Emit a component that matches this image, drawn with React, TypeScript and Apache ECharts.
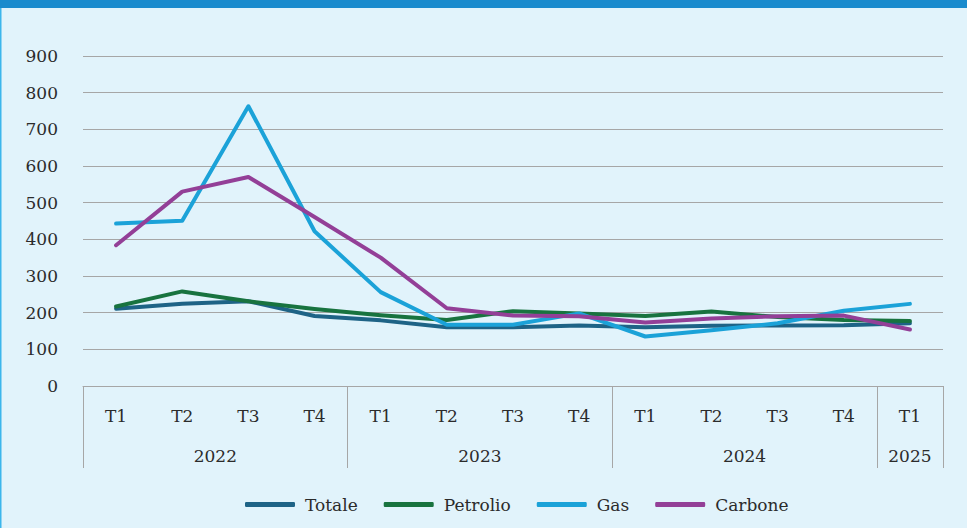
import React, { useEffect, useRef } from "react";
import * as echarts from "echarts";

const quarters = ["T1", "T2", "T3", "T4", "T1", "T2", "T3", "T4", "T1", "T2", "T3", "T4", "T1"];
const years = ["2022", "2023", "2024", "2025"];
const yearSizes = [4, 4, 4, 1];

const totale = [211, 224, 231, 191, 179, 160, 160, 165, 160, 164, 165, 166, 171];
const petrolio = [217, 258, 231, 210, 193, 180, 204, 198, 191, 203, 188, 180, 177];
const gas = [443, 451, 763, 422, 256, 167, 167, 198, 135, 152, 171, 205, 224];
const carbone = [384, 530, 570, 461, 350, 212, 192, 190, 173, 184, 190, 192, 154];

const FONT = "'DejaVu Serif', serif";
const FS = 17;
const TXT = "#2b2b2b";
const GRIDC = "#a6a6a6";

export default function App() {
  const ref = useRef<HTMLDivElement>(null);
  useEffect(() => {
    if (!ref.current) return;
    const chart = echarts.init(ref.current, null, { renderer: "svg" });

    const bounds: number[] = [0];
    const labelPos: number[] = [];
    let acc = 0;
    yearSizes.forEach((s) => {
      labelPos.push(acc + s / 2);
      acc += s;
      bounds.push(acc);
    });

    const mk = (name: string, data: number[], color: string) => ({
      name,
      type: "line",
      data,
      showSymbol: false,
      symbol: "none",
      lineStyle: { width: 4, color, cap: "round", join: "round" },
      itemStyle: { color },
      xAxisIndex: 0,
    });

    chart.setOption({
      animation: false,
      backgroundColor: "#e1f3fb",
      textStyle: { fontFamily: FONT },
      grid: { left: 83, right: 24, top: 56, bottom: 142, containLabel: false },
      xAxis: [
        {
          type: "category",
          data: quarters,
          boundaryGap: true,
          position: "bottom",
          axisLine: { show: true, lineStyle: { color: GRIDC, width: 1 } },
          axisTick: { show: false },
          axisLabel: { color: TXT, fontFamily: FONT, fontSize: FS, margin: 21 },
          splitLine: { show: false },
        },
        {
          type: "value",
          min: 0,
          max: quarters.length,
          position: "bottom",
          axisLine: { show: false },
          splitLine: { show: false },
          axisTick: {
            show: true,
            length: 82,
            customValues: bounds,
            lineStyle: { color: GRIDC, width: 1 },
          },
          axisLabel: {
            show: true,
            customValues: labelPos,
            color: TXT,
            fontFamily: FONT,
            fontSize: FS,
            margin: 61,
            formatter: (v: number) => {
              const i = labelPos.findIndex((p) => Math.abs(p - v) < 1e-6);
              return i >= 0 ? years[i] : "";
            },
          },
        },
      ],
      yAxis: {
        type: "value",
        min: 0,
        max: 900,
        interval: 100,
        axisLine: { show: false },
        axisTick: { show: false },
        axisLabel: { color: TXT, fontFamily: FONT, fontSize: FS, margin: 25 },
        splitLine: { lineStyle: { color: GRIDC, width: 1 } },
      },
      legend: {
        left: 240,
        top: 491,
        icon: "roundRect",
        itemWidth: 50,
        itemHeight: 5,
        itemGap: 26,
        textStyle: { color: TXT, fontFamily: FONT, fontSize: FS, padding: [0, 0, 0, 5] },
        data: ["Totale", "Petrolio", "Gas", "Carbone"],
      },
      graphic: [
        { type: "rect", left: 0, top: 0, shape: { width: 967, height: 8 }, style: { fill: "#1a8bcd" }, z: 10 },
        { type: "rect", left: 0, top: 8, shape: { width: 1.5, height: 520 }, style: { fill: "#3bb6ec" }, z: 10 },
      ],
      series: [
        mk("Totale", totale, "#1e6386"),
        mk("Petrolio", petrolio, "#18733f"),
        mk("Gas", gas, "#1ba2d8"),
        mk("Carbone", carbone, "#933f97"),
      ],
    });
    return () => chart.dispose();
  }, []);
  return <div ref={ref} style={{ position: "fixed", left: 0, top: 0, width: 967, height: 528 }} />;
}
